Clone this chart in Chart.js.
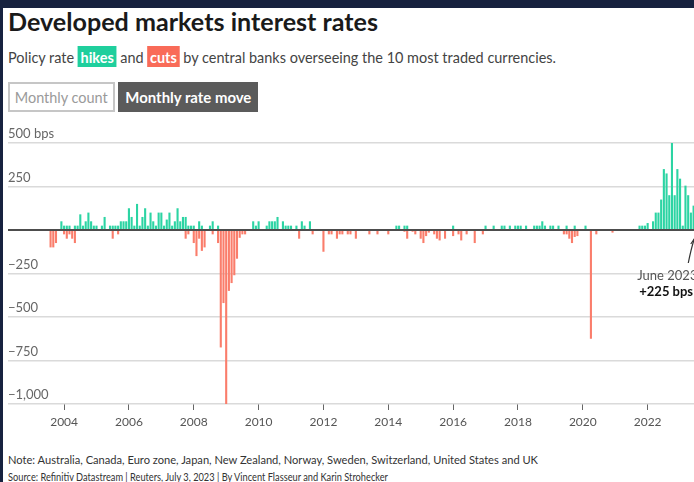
<!DOCTYPE html>
<html><head><meta charset="utf-8">
<script src="https://cdn.jsdelivr.net/npm/chart.js@4.4.1/dist/chart.umd.min.js"></script>
<style>
html,body{margin:0;padding:0;background:#fff;overflow:hidden;width:694px;height:482px;position:relative;font-family:Lato,"Open Sans",sans-serif}
.frame{position:absolute;background:#17223f;z-index:5}
.t{position:absolute;white-space:nowrap;transform-origin:0 0;line-height:1.2}
#title{left:8px;top:6px;font-size:25px;font-weight:700;color:#1a1a1a}
#sub{left:8px;top:47px;font-size:16px;color:#444}
.badge{color:#fff;font-weight:700;padding:1px 3px}
.hk{background:#1fcf9d}.ct{background:#f96b58}
.btn{position:absolute;top:82px;height:30px;box-sizing:border-box;font-size:15px;display:flex;align-items:center;justify-content:center;overflow:hidden}
#b1{left:8px;width:107px;border:2px solid #c6c6c6;color:#9a9a9a}
#b2{left:118px;width:140px;background:#5b5b5b;color:#fff;font-weight:700}
.btn span{white-space:nowrap;display:inline-block;transform-origin:50% 50%}
#note{left:8px;top:453px;font-size:12px;color:#333}
#src{left:8px;top:470px;font-size:12px;color:#333}
#box{position:absolute;left:0;top:120px;width:720px;height:320px}
</style></head><body>
<div class="frame" style="left:0;top:0;width:694px;height:8px"></div>
<div class="frame" style="left:0;top:0;width:3px;height:482px"></div>
<div class="t" id="title">Developed markets interest rates</div>
<div class="t" id="sub">Policy rate <span class="badge hk">hikes</span> and <span class="badge ct">cuts</span> by central banks overseeing the 10 most traded currencies.</div>
<div class="btn" id="b1"><span id="b1t">Monthly count</span></div>
<div class="btn" id="b2"><span id="b2t">Monthly rate move</span></div>
<div id="box"><canvas id="c" width="720" height="320"></canvas></div>
<div class="t" id="note">Note: Australia, Canada, Euro zone, Japan, New Zealand, Norway, Sweden, Switzerland, United States and UK</div>
<div class="t" id="src">Source: Refinitiv Datastream | Reuters, July 3, 2023 | By Vincent Flasseur and Karin Strohecker</div>
<script>
// ---- data (basis points, summed over the 10 central banks, per month) ----
const firstMonth = "2003-07";
const hikes = [
  0,0,0,0,50,25,                                  // 2003 Jul-Dec
  25,25,0,25,25,90,25,50,100,50,25,25,            // 2004
  0,25,75,0,25,25,25,25,50,50,50,125,             // 2005
  75,25,150,25,75,125,25,100,50,25,100,100,       // 2006
  25,60,100,25,50,125,50,75,75,25,25,25,          // 2007
  0,50,25,0,0,25,50,0,25,0,0,0,                   // 2008
  0,0,0,0,0,0,0,0,0,50,25,50,                     // 2009
  0,0,25,50,50,50,75,0,50,25,25,25,               // 2010
  0,25,0,50,25,0,50,0,0,0,0,0,                    // 2011
  0,0,0,0,0,0,0,0,0,0,0,0,                        // 2012
  0,0,0,0,0,0,0,0,0,0,0,0,                        // 2013
  0,0,25,25,0,25,25,0,0,0,0,0,                    // 2014
  0,0,0,0,0,0,0,0,0,0,0,25,                       // 2015
  0,0,0,0,0,0,0,0,0,0,0,25,                       // 2016
  0,0,25,0,0,25,25,0,25,0,25,25,                  // 2017
  25,0,25,0,0,25,25,25,50,25,0,25,                // 2018
  25,0,25,0,0,25,0,0,25,0,0,0,                    // 2019
  25,0,0,0,0,0,0,0,0,0,0,0,                       // 2020
  0,0,0,0,0,0,0,0,25,25,25,40,                    // 2021
  0,50,100,100,175,350,325,200,550,200,350,295,   // 2022
  25,255,200,100,140,225                          // 2023 Jan-Jun
];
const cuts = [
  -100,-100,-75,0,0,-25,                          // 2003 Jul-Dec
  -50,-25,-50,-75,0,0,0,0,0,0,0,0,                // 2004
  0,0,0,0,0,-50,0,-25,0,0,0,0,                    // 2005
  0,0,0,0,0,0,0,0,0,0,0,0,                        // 2006
  0,0,0,0,0,0,0,0,-50,-25,0,-75,                  // 2007
  -150,-50,-120,-100,0,0,-25,0,-75,-675,-420,-1000, // 2008
  -350,-305,-260,-165,-45,-25,-25,0,0,0,0,0,      // 2009
  0,0,0,0,0,0,0,0,0,0,0,0,                        // 2010
  0,0,-50,0,0,0,0,-25,0,0,0,-125,                 // 2011
  0,-25,-25,0,-50,-25,-25,0,-25,-25,0,-50,        // 2012
  0,0,0,0,-25,0,0,-25,0,0,0,-25,                  // 2013
  0,0,0,0,0,-10,-50,0,-10,-25,0,-50,              // 2014
  -75,-35,-15,0,-25,-50,-60,0,-50,0,0,-35,        // 2015
  0,-25,-60,0,-25,0,0,-75,0,0,-25,0,              // 2016
  0,0,0,0,0,0,0,0,0,0,0,0,                        // 2017
  0,0,0,0,0,0,0,0,0,0,0,0,                        // 2018
  0,0,0,0,-25,-25,-50,-75,-40,-35,0,0,            // 2019
  0,0,-625,0,-25,0,0,0,0,0,-15,0,                 // 2020
  0,0,0,0,0,0,0,0,0,0,0,0,                        // 2021
  0,0,0,0,0,0,0,0,0,0,0,0,                        // 2022
  0,0,0,0,0,0                                     // 2023 Jan-Jun
];
const yTickValues = [500, 250, 0, -250, -500, -750, -1000];
const xTickYears = [2004, 2006, 2008, 2010, 2012, 2014, 2016, 2018, 2020, 2022];
const annotation = {month: "2023-06", line1: "June 2023", line2: "+225 bps"};

// month labels
const months = [];
{
  let [y, m] = firstMonth.split("-").map(Number);
  for (let i = 0; i < hikes.length; i++) {
    months.push(y + "-" + String(m).padStart(2, "0"));
    m++; if (m > 12) { m = 1; y++; }
  }
}
// each monthly bar sits at the end of its month
const monthX = s => { const [y, m] = s.split("-").map(Number); return y + m / 12; };

const GREEN = "rgb(44,212,163)", RED = "rgb(250,125,107)";

const overlay = {
  id: "overlay",
  afterDatasetsDraw(chart) {
    const {ctx, chartArea: a, scales: {x, y}} = chart;
    const y0 = y.getPixelForValue(0);
    ctx.save();
    ctx.strokeStyle = "#4d4d4d"; ctx.lineWidth = 2;
    ctx.beginPath(); ctx.moveTo(a.left, y0); ctx.lineTo(a.right, y0); ctx.stroke();
    // annotation
    const xa = x.getPixelForValue(monthX(annotation.month));
    ctx.strokeStyle = "#333"; ctx.lineWidth = 1.2;
    ctx.beginPath();
    ctx.moveTo(xa - 8, y0 + 33);
    ctx.quadraticCurveTo(xa - 5, y0 + 18, xa - 2, y0 + 9);
    ctx.stroke();
    ctx.beginPath();
    ctx.moveTo(xa - 5.5, y0 + 14); ctx.lineTo(xa - 2, y0 + 9); ctx.lineTo(xa - 0.5, y0 + 15);
    ctx.stroke();
    ctx.textAlign = "left"; ctx.textBaseline = "middle";
    ctx.fillStyle = "#555"; ctx.font = "13px Lato";
    ctx.fillText(annotation.line1, xa - 59, y0 + 46);
    ctx.fillStyle = "#111"; ctx.font = "bold 13px Lato";
    ctx.fillText(annotation.line2, xa - 57, y0 + 62);
    ctx.restore();
  }
};

Chart.defaults.font.family = "Lato";
new Chart(document.getElementById("c"), {
  type: "bar",
  data: {
    datasets: [
      {label: "Hikes", data: months.map((m, i) => ({x: monthX(m), y: hikes[i]})), backgroundColor: GREEN},
      {label: "Cuts", data: months.map((m, i) => ({x: monthX(m), y: cuts[i]})), backgroundColor: RED}
    ]
  },
  options: {
    responsive: false, animation: false, devicePixelRatio: 1,
    barPercentage: 0.78, categoryPercentage: 1,
    layout: {padding: {left: 8, top: 23, right: 2, bottom: 0}},
    plugins: {legend: {display: false}, tooltip: {enabled: false}},
    scales: {
      x: {
        type: "linear", stacked: true, offset: false, min: 2002.27, max: 2024.17,
        afterBuildTicks: s => { s.ticks = xTickYears.map(v => ({value: v})); },
        afterFit: s => { s.height = 36; },
        grid: {offset: false, drawOnChartArea: false, drawTicks: true, tickLength: 6, tickColor: "#666", tickWidth: 1},
        border: {display: false},
        ticks: {padding: 5, color: "#555", font: {size: 12}, maxRotation: 0, autoSkip: false, callback: v => String(v)}
      },
      y: {
        stacked: true, min: -1000, max: 500,
        afterBuildTicks: s => { s.ticks = yTickValues.map(v => ({value: v})); },
        grid: {drawTicks: false, color: c => c.tick && c.tick.value === 0 ? "rgba(0,0,0,0)" : "#dadada", lineWidth: 1.5},
        border: {display: false},
        ticks: {mirror: true, padding: 0, labelOffset: -9, color: "#666", font: {size: 13},
          callback: v => v === 0 ? "" : v === 500 ? "500 bps" : (v < 0 ? "\u2212" : "") + Math.abs(v).toLocaleString("en-US")}
      }
    }
  },
  plugins: [overlay]
});

function fit(id, w) {
  const el = document.getElementById(id);
  const r = el.getBoundingClientRect().width;
  el.style.transform = "scaleX(" + (w / r) + ")";
}
fit("title", 370); fit("sub", 548); fit("note", 530); fit("src", 380);
fit("b1t", 93); fit("b2t", 126);
</script>
</body></html>
